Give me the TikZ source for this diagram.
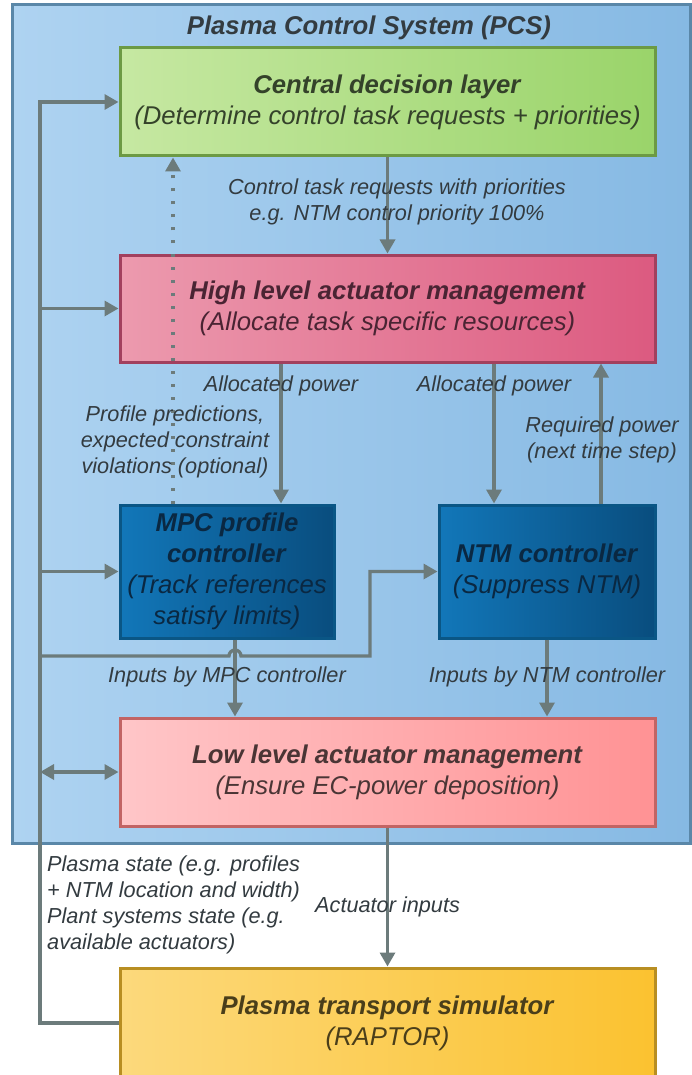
\documentclass[tikz,border=0pt]{standalone}
\usepackage{fontspec}
\setmainfont{Liberation Sans}
\usetikzlibrary{arrows.meta}
\definecolor{pcsA}{HTML}{AED3F1}
\definecolor{pcsB}{HTML}{86B9E3}
\definecolor{pcsLine}{HTML}{5A87A8}
\definecolor{arrc}{HTML}{6C7B7B}
\definecolor{grnA}{HTML}{C6E8A2}
\definecolor{grnB}{HTML}{9AD46A}
\definecolor{grnL}{HTML}{6C9A44}
\definecolor{pnkA}{HTML}{EC9AAE}
\definecolor{pnkB}{HTML}{DC5A80}
\definecolor{pnkL}{HTML}{A2405E}
\definecolor{bluA}{HTML}{1277B9}
\definecolor{bluB}{HTML}{094D7E}
\definecolor{bluL}{HTML}{0A5685}
\definecolor{lowA}{HTML}{FFC6C8}
\definecolor{lowB}{HTML}{FF9294}
\definecolor{lowL}{HTML}{C26464}
\definecolor{ylwA}{HTML}{FCD97C}
\definecolor{ylwB}{HTML}{FBC230}
\definecolor{ylwL}{HTML}{B88E22}
\definecolor{txtc}{HTML}{333B40}
\definecolor{grnT}{HTML}{34422A}
\definecolor{pnkT}{HTML}{4A2433}
\definecolor{bluT}{HTML}{0A2842}
\definecolor{lowT}{HTML}{4A3535}
\definecolor{ylwT}{HTML}{4A3E1A}
\begin{document}
\begin{tikzpicture}[x=1pt,y=-1pt,
  box/.style={draw, line width=3pt, inner sep=0pt, align=center,
    font=\fontsize{25.7}{31}\selectfont},
  lbl/.style={inner sep=0pt, align=center, text=txtc,
    font=\fontsize{21.7}{26}\selectfont\itshape},
  arr/.style={draw=arrc, line width=3.3pt, -{Triangle[length=14pt,width=15pt]}},
  dbl/.style={draw=arrc, line width=3.3pt, {Triangle[length=14pt,width=15pt]}-{Triangle[length=14pt,width=15pt]}},
  ln/.style={draw=arrc, line width=3.3pt}]
\useasboundingbox (0,0) rectangle (692,1075);
\begin{scope}
\clip (0,0) rectangle (692,1075);
% PCS background
\node[draw=pcsLine, line width=3pt, left color=pcsA, right color=pcsB,
  minimum width=678pt, minimum height=838pt, inner sep=0pt] (pcs) at (351,424) {};
\node[inner sep=0pt, text=txtc, font=\fontsize{25.7}{31}\selectfont\bfseries\itshape] (title) at (369,28) {Plasma Control System (PCS)};
% boxes
\node[box, draw=grnL, left color=grnA, right color=grnB, text=grnT,
  minimum width=535pt, minimum height=108pt] (central) at (387.5,102)
  {\textbf{\textit{Central decision layer}}\\\textit{(Determine control task requests + priorities)}};
\node[box, draw=pnkL, left color=pnkA, right color=pnkB, text=pnkT,
  minimum width=535pt, minimum height=107pt] (high) at (387.5,308.5)
  {\textbf{\textit{High level actuator management}}\\\textit{(Allocate task specific resources)}};
\node[box, draw=bluL, left color=bluA, right color=bluB, text=bluT,
  minimum width=214pt, minimum height=133pt] (mpc) at (227,571.5)
  {\textbf{\textit{MPC profile}}\\\textbf{\textit{controller}}\\\textit{(Track references}\\\textit{satisfy limits)}};
\node[box, draw=bluL, left color=bluA, right color=bluB, text=bluT,
  minimum width=216pt, minimum height=133pt] (ntm) at (547,571.5)
  {\textbf{\textit{NTM controller}}\\\textit{(Suppress NTM)}};
\node[box, draw=lowL, left color=lowA, right color=lowB, text=lowT,
  minimum width=535pt, minimum height=108pt] (low) at (387.5,772)
  {\textbf{\textit{Low level actuator management}}\\\textit{(Ensure EC-power deposition)}};
\node[box, draw=ylwL, left color=ylwA, right color=ylwB, text=ylwT,
  minimum width=535pt, minimum height=110pt] (sim) at (387.5,1023)
  {\textbf{\textit{Plasma transport simulator}}\\\textit{(RAPTOR)}};
% bus and feedback
\coordinate (bus) at (40,0);
\coordinate (jstart) at (40,656);
\coordinate (jturn) at (370,656);
\draw[arr] (sim.west) -- (sim.west -| bus) |- (central.west);
\draw[arr] (bus |- high.west) -- (high.west);
\draw[arr] (bus |- mpc.west) -- (mpc.west);
\draw[dbl] (bus |- low.west) -- (low.west);
\draw[arr] (jstart) -- (229,656) arc[start angle=180, end angle=0, radius=6pt] -- (jturn) |- (ntm.west);
% vertical flows
\draw[arr] (central.south) -- (high.north);
\draw[arr, dash pattern=on 3pt off 10pt] (mpc.north -| 173,0) -- (central.south -| 173,0);
\draw[arr] (high.south -| 281,0) -- (mpc.north -| 281,0);
\draw[arr] (high.south -| 494,0) -- (ntm.north -| 494,0);
\draw[arr] (ntm.north -| 601,0) -- (high.south -| 601,0);
\draw[arr] (mpc.south -| 235,0) -- (low.north -| 235,0);
\draw[arr] (ntm.south) -- (low.north -| ntm.south);
\draw[arr] (low.south) -- (sim.north);
% labels
\node[lbl] (l1) at (397,202) {Control task requests with priorities\\e.g. NTM control priority 100\%};
\node[lbl] (l2) at (281,386) {Allocated power};
\node[lbl] (l3) at (494,386) {Allocated power};
\node[lbl] (l4) at (175,442) {Profile predictions,\\expected constraint\\violations (optional)};
\node[lbl] (l5) at (602,440) {Required power\\(next time step)};
\node[lbl] (l6) at (227,677) {Inputs by MPC controller};
\node[lbl] (l7) at (547,677) {Inputs by NTM controller};
\node[lbl, align=left, anchor=west] (l8) at (47,904.5) {Plasma state (e.g. profiles\\+ NTM location and width)\\Plant systems state (e.g.\\available actuators)};
\node[lbl, anchor=west] (l9) at (315,907) {Actuator inputs};
\end{scope}
\end{tikzpicture}
\end{document}
